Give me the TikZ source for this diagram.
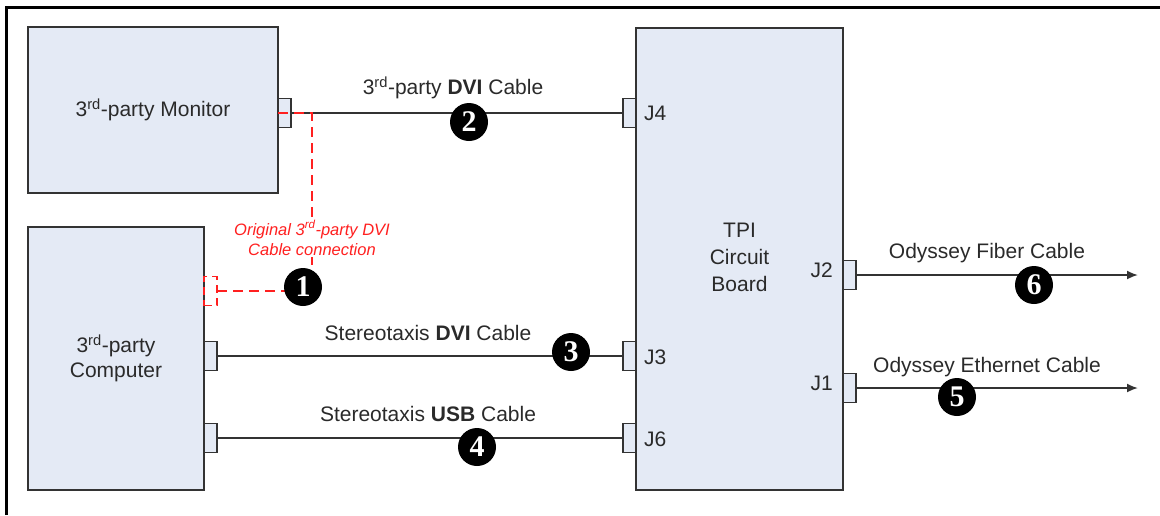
\documentclass[tikz,border=0pt]{standalone}
\usepackage{fontspec}
\setmainfont{Liberation Sans}
\newfontfamily\numfont{Liberation Serif}
\usetikzlibrary{arrows.meta}
\definecolor{boxfill}{HTML}{E4EAF5}
\definecolor{boxline}{HTML}{333333}
\definecolor{txt}{HTML}{2A2A2A}
\definecolor{redline}{HTML}{FF2020}
\tikzset{
  unit/.style={draw=boxline, fill=boxfill, line width=2pt, inner sep=0pt, outer sep=0pt,
    font=\fontsize{21}{25}\selectfont, text=txt, align=center},
  conn/.style={draw=boxline, fill=boxfill, line width=1.6pt, inner sep=0pt, outer sep=0pt,
    minimum width=13pt, minimum height=29pt},
  redconn/.style={draw=redline, dash pattern=on 8pt off 5pt, line width=1.8pt, inner sep=0pt, outer sep=0pt,
    minimum width=13pt, minimum height=29pt},
  cable/.style={draw=boxline, line width=1.8pt},
  reddash/.style={draw=redline, line width=2pt, dash pattern=on 10pt off 6pt},
  lbl/.style={font=\fontsize{21}{25}\selectfont, text=txt, inner sep=0pt},
  numdot/.style={circle, fill=black, minimum size=38pt, inner sep=0pt, text=white,
    font=\numfont\bfseries\fontsize{30}{30}\selectfont},
  redtxt/.style={font=\itshape\fontsize{16.5}{20}\selectfont, text=redline, fill=white, align=center, inner sep=2pt}
}
\begin{document}
\begin{tikzpicture}[x=1pt,y=-1pt]
\useasboundingbox (0,0) rectangle (1160,515);
% frame (top and left only)
\draw[line width=3pt] (6.5,515) -- (6.5,7.5) -- (1160,7.5);

% units
\node[unit, minimum width=250pt, minimum height=166pt] (mon) at (153,110) {3\textsuperscript{rd}-party Monitor};
\node[unit, minimum width=176pt, minimum height=263pt] (pc) at (116,358.5) {3\textsuperscript{rd}-party\\Computer};
\node[unit, minimum width=207pt, minimum height=462pt] (tpi) at (739.5,259) {};
\node[lbl, align=center, font=\fontsize{21}{27}\selectfont] (tpit) at (739.5,257) {TPI\\Circuit\\Board};

% connectors
\node[conn] (mc) at (284.5,113) {};
\node[conn] (j4c) at (629.5,113) {};
\node[redconn] (pc1) at (210.5,291) {};
\node[conn] (pc3) at (210.5,356) {};
\node[conn] (j3c) at (629.5,356) {};
\node[conn] (pc4) at (210.5,438) {};
\node[conn] (j6c) at (629.5,438) {};
\node[conn] (j2c) at (849.5,275) {};
\node[conn] (j1c) at (849.5,388) {};

% connector labels
\node[lbl, anchor=west] (j4) at (644,113) {J4};
\node[lbl, anchor=west] (j3) at (644,357) {J3};
\node[lbl, anchor=west] (j6) at (644,439) {J6};
\node[lbl, anchor=east] (j2) at (833,270) {J2};
\node[lbl, anchor=east] (j1) at (833,383) {J1};

% cables
\coordinate (e6) at (1138,275);
\coordinate (e5) at (1138,388);
\draw[cable] (mc.east) -- (j4c.west);
\draw[cable] (pc3.east) -- (j3c.west);
\draw[cable] (pc4.east) -- (j6c.west);
\draw[cable, -{Latex[length=11pt,width=9pt]}] (j2c.east) -- (e6);
\draw[cable, -{Latex[length=11pt,width=9pt]}] (j1c.east) -- (e5);

% cable labels
\node[lbl] (l2) at (453,88) {3\textsuperscript{rd}-party \textbf{DVI} Cable};
\node[lbl] (l3) at (428,333) {Stereotaxis \textbf{DVI} Cable};
\node[lbl] (l4) at (428,414) {Stereotaxis \textbf{USB} Cable};
\node[lbl] (l6) at (987,253) {Odyssey Fiber Cable};
\node[lbl] (l5) at (987,367) {Odyssey Ethernet Cable};

% original red connection
\coordinate (rc) at (312,113);
\coordinate (n1pos) at (303,287);
\draw[reddash] (mc.west) -- (rc) -- (rc |- n1pos);
\draw[reddash] (pc1.east) -- (pc1.east -| n1pos);
\node[redtxt] (rt) at (312,238) {Original 3\textsuperscript{rd}-party DVI\\Cable connection};
\node[numdot] (n1) at (n1pos) {1};

% numbered markers
\node[numdot] (n2) at (469,122) {2};
\node[numdot] (n3) at (571,352) {3};
\node[numdot] (n4) at (477,447) {4};
\node[numdot] (n5) at (957,397) {5};
\node[numdot] (n6) at (1034,285) {6};
\end{tikzpicture}
\end{document}
